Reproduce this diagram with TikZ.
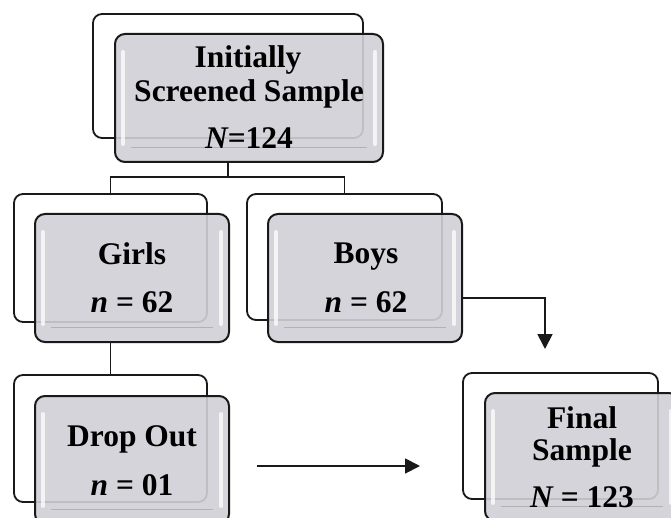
\documentclass[tikz,border=0pt]{standalone}
\usepackage{fontspec}
\setmainfont{Liberation Serif}
\usetikzlibrary{arrows.meta}
\definecolor{boxgray}{RGB}{208,208,214}
\begin{document}
\begin{tikzpicture}[x=1pt,y=-1pt,
 backbox/.style={draw=black!90, line width=1.8pt, rounded corners=9pt, inner sep=0pt},
 frontbox/.style={draw=black!90, line width=2pt, rounded corners=10pt, fill=boxgray, fill opacity=0.9, inner sep=0pt,
   minimum width=194pt, minimum height=128pt,
   path picture={
     \draw[white, line width=4pt, opacity=0.75, line cap=round]
       ([xshift=8pt,yshift=-18pt]path picture bounding box.north west) -- ([xshift=8pt,yshift=18pt]path picture bounding box.south west);
     \draw[white, line width=4pt, opacity=0.75, line cap=round]
       ([xshift=-8pt,yshift=-18pt]path picture bounding box.north east) -- ([xshift=-8pt,yshift=18pt]path picture bounding box.south east);
     \draw[gray!60, line width=0.8pt]
       ([xshift=16pt,yshift=15pt]path picture bounding box.south west) -- ([xshift=-16pt,yshift=15pt]path picture bounding box.south east);
   }},
 lbl/.style={anchor=base, font=\fontsize{31.5}{34}\selectfont\bfseries, inner sep=0pt, text=black},
 conn/.style={draw=black!90, line width=1.8pt},
 tip/.style={-{Triangle[length=15pt,width=15pt]}}
]
\useasboundingbox (0,0) rectangle (671,518);
\fill[white] (0,0) rectangle (671,518);

% back boxes
\node[backbox, minimum width=270pt, minimum height=124pt] (topback) at (228,76) {};
\node[backbox, minimum width=193pt, minimum height=128pt] (girlsback) at (110.5,258) {};
\node[backbox, minimum width=195pt, minimum height=126pt] (boysback) at (344.5,257) {};
\node[backbox, minimum width=193pt, minimum height=127pt] (dropback) at (110.5,438.5) {};
\node[backbox, minimum width=195pt, minimum height=126pt] (finalback) at (560.5,436) {};

% front boxes
\node[frontbox, minimum width=268pt] (topfront) at (249,98) {};
\node[frontbox] (girlsfront) at (132,278) {};
\node[frontbox] (boysfront) at (365,278) {};
\node[frontbox] (dropfront) at (132,460) {};
\node[frontbox] (finalfront) at (582,457) {};

% connectors
\coordinate (split) at (228,177);
\coordinate (ftip) at (545,349);
\coordinate (dstart) at (257,466);
\coordinate (dend) at (420,466);
\draw[conn] (topback.south |- topfront.south) -- (split);
\draw[conn] (girlsback.north) |- (split) -| (boysback.north);
\draw[conn] (girlsback.center |- girlsfront.south) -- (dropback.north);
\draw[conn, tip] ([yshift=-20pt]boysfront.east) -| (ftip);
\draw[conn, tip] (dstart) -- (dend);

% labels
\node[lbl] (t1) at (248,68) {Initially};
\node[lbl] (t2) at (249,102) {Screened Sample};
\node[lbl] (t3) at (249,149) {\itshape N\upshape=124};
\node[lbl] (g1) at (132,265) {Girls};
\node[lbl] (g2) at (132,312) {{\itshape n} = 62};
\node[lbl] (b1) at (366,264) {Boys};
\node[lbl] (b2) at (366,312) {{\itshape n} = 62};
\node[lbl] (d1) at (132,446) {Drop Out};
\node[lbl] (d2) at (132,495) {{\itshape n} = 01};
\node[lbl] (f1) at (582,428) {Final};
\node[lbl] (f2) at (582,460) {Sample};
\node[lbl] (f3) at (582,507) {{\itshape N} = 123};
\end{tikzpicture}
\end{document}
